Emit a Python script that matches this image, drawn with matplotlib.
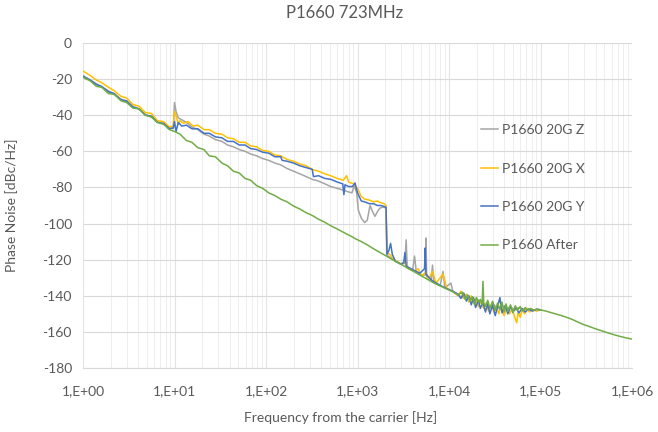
import numpy as np
import matplotlib
matplotlib.use("Agg")
import matplotlib.pyplot as plt
from matplotlib.ticker import FixedLocator, FuncFormatter, NullFormatter

plt.rcParams['font.family'] = ['Lato', 'DejaVu Sans']
plt.rcParams['axes.unicode_minus'] = False

# ---- data (frequency in Hz, phase noise in dBc/Hz) ----
f_z = [1, 1.2, 1.4, 1.6, 1.9, 2.2, 2.6, 3.0, 3.5, 4.1, 4.8, 5.6, 6.5, 7.6, 8.8, 9.7,
       10, 10.4, 11, 12, 13.5, 15.5, 18, 21, 24, 28, 33, 38, 44, 51, 59, 68, 79, 92,
       107, 125, 145, 170, 200, 235, 275, 320, 375, 440, 510, 600, 700, 800, 870, 920,
       980, 1020, 1100, 1200, 1280, 1370, 1450, 1550, 1650, 1750, 1850, 1950, 2050,
       2100, 2300, 2600, 3000, 3300, 3400, 3500, 4000, 4200, 4400, 5000, 5500, 5600,
       5700, 6400, 6600, 6800, 8000, 8600, 9000, 10500, 11000, 12500, 14000, 15500,
       17000, 18500, 20000, 22000, 24000, 26000, 28000, 31000, 34000, 38000, 42000,
       47000, 52000, 58000, 65000, 72000, 82000, 100000]
pn_z = [-18, -20.5, -22.5, -24.5, -26.5, -28.5, -31, -32.5, -35, -36.5, -39.5, -41, -43.5,
        -45, -47, -47.5, -33, -38, -41.5, -42.5, -44, -46.5, -48, -50.5, -51.5, -53.5,
        -54.5, -56.5, -57.5, -59, -60, -61.5, -62.5, -64, -65, -66.5, -67.5, -69.5, -71,
        -72.5, -74, -75.5, -76.5, -78, -79.5, -80.5, -81.5, -82.5, -83, -79, -83, -92.5,
        -97, -99.5, -98, -90, -93, -96, -93.5, -91.5, -91, -91, -91.5, -117.5, -119,
        -120.5, -122.5, -122, -109, -124.5, -126, -118, -127, -128.5, -128.5, -108,
        -129.5, -131, -123, -131.5, -134.5, -126.5, -135.5, -133, -137.5, -139.5, -141,
        -140, -142.5, -141.5, -144, -143, -145.5, -144.5, -146.5, -145, -147, -145.5,
        -147.5, -146, -148, -146.5, -148, -147, -148, -147.8]

f_x = [1, 1.2, 1.4, 1.6, 1.9, 2.2, 2.6, 3.0, 3.5, 4.1, 4.8, 5.6, 6.5, 7.6, 8.8, 9.7,
       10, 10.5, 11, 11.5, 12.5, 14, 16, 18, 21, 24, 28, 33, 38, 44, 51, 59, 68, 79, 92,
       107, 125, 145, 170, 200, 235, 275, 320, 375, 440, 510, 600, 700, 760, 800, 900,
       1000, 1100, 1200, 1350, 1500, 1650, 1800, 1950, 2050, 2100, 2300, 2500, 2700,
       3000, 3300, 3600, 4200, 4600, 5000, 5600, 6000, 6600, 7200, 8600, 9500, 11000,
       12500, 13500, 14500, 15500, 16500, 17500, 18500, 19500, 21000, 22000, 24000,
       25500, 27000, 29000, 31000, 33000, 35000, 37000, 40000, 43000, 46000, 49000,
       52000, 55000, 57000, 60000, 63000, 67000, 71000, 76000, 82000, 90000, 100000]
pn_x = [-15.5, -18, -20.5, -22, -24.5, -26.5, -29.5, -30.5, -34, -35, -38.5, -39, -43,
        -43.5, -46.5, -46, -38, -41, -45, -43, -44.5, -43.5, -46, -45.5, -48, -48, -50,
        -50.5, -52.5, -53, -55, -55, -57, -57.5, -59.5, -60, -62, -62.5, -64.5, -65.5,
        -67, -68, -70, -71, -72.5, -73.5, -75, -76, -73.5, -77, -78, -80.5, -85, -86.5,
        -87, -88, -87.5, -88.5, -89, -90, -116, -117.5, -120.5, -121, -122.5, -121, -125,
        -126.5, -125, -129, -127, -131, -126.5, -133, -128, -136, -137.5, -140, -137.5,
        -141.5, -139, -143.5, -140, -144, -141.5, -146, -143, -147, -144, -148.5, -145,
        -149, -145.5, -150, -146, -151, -146.5, -150, -147, -151.5, -155, -149, -152,
        -147.5, -150, -147, -149, -147.5, -148.5, -147.8]

f_y = [1, 1.2, 1.4, 1.6, 1.9, 2.2, 2.6, 3.0, 3.5, 4.1, 4.8, 5.6, 6.5, 7.6, 8.8, 9.7,
       10, 10.4, 11, 12, 13.5, 15.5, 18, 21, 24, 28, 33, 38, 44, 51, 59, 68, 79, 92,
       107, 125, 145, 150, 170, 200, 235, 275, 320, 330, 375, 440, 510, 600, 690, 710,
       730, 800, 880, 940, 1000, 1100, 1200, 1350, 1500, 1650, 1800, 1950, 2050, 2100,
       2200, 2300, 2400, 2600, 3000, 3200, 3300, 3400, 4000, 4800, 5400, 5500, 5600,
       6500, 7500, 9000, 11000, 12500, 13500, 14500, 15500, 16500, 17500, 18500, 19500,
       21000, 22000, 23500, 25000, 26500, 28000, 30000, 32000, 34000, 36000, 38000,
       41000, 44000, 47000, 50000, 54000, 58000, 63000, 68000, 74000, 82000, 90000,
       100000]
pn_y = [-18.5, -20.5, -23, -24, -27, -28, -31.5, -32, -35.5, -36.5, -40, -40.5, -44,
        -44.5, -47.5, -47, -43.5, -49, -44, -46, -45.5, -47.5, -47.5, -50, -50, -52,
        -52.5, -54.5, -54.5, -56.5, -56.5, -58.5, -59, -60.5, -61, -63, -63, -65, -65.5,
        -66.5, -68, -69, -70, -74, -73.5, -75, -75.5, -77, -78, -84, -78.5, -79.5, -79.5,
        -77.5, -83, -87.5, -88, -89, -89, -90, -90, -90.5, -91, -117, -115, -111, -117,
        -121, -122.5, -121.5, -116, -123.5, -125.5, -127.5, -125, -113.5, -128, -131.5,
        -133.5, -135.5, -137.5, -139, -141.5, -138.5, -143, -140, -145, -141, -146.5,
        -142.5, -147, -143.5, -149, -144.5, -150, -145, -151, -146, -141, -149.5, -145.5,
        -150, -146, -149, -146.5, -149.5, -147, -149, -147.5, -148.5, -147.5, -147.8]

f_after = [1, 1.2, 1.4, 1.6, 1.9, 2.2, 2.6, 3.0, 3.5, 4.1, 4.8, 5.6, 6.5, 7.6, 8.8, 10,
           11.5, 13.5, 15.5, 18, 21, 24, 28, 33, 38, 44, 51, 59, 68, 79, 92, 107, 125,
           145, 170, 200, 235, 275, 320, 375, 440, 510, 600, 700, 820, 950, 1100, 1300,
           1500, 1800, 2100, 2500, 3000, 3500, 4200, 5000, 6000, 7000, 8200, 9500, 11000,
           12500, 14000, 15000, 16000, 17000, 18000, 19000, 20000, 21000, 22000, 23000,
           23500, 24000, 25000, 26500, 28000, 30000, 32000, 34000, 36000, 38000, 40000,
           42000, 44000, 47000, 50000, 53000, 56000, 60000, 64000, 68000, 72000, 78000,
           85000, 92000, 100000, 115000, 130000, 150000, 170000, 190000, 220000, 250000,
           290000, 340000, 400000, 460000, 540000, 630000, 740000, 860000, 1000000]
pn_after = [-19, -21, -24, -24.5, -28, -28.5, -32, -33, -36, -36.5, -40, -41, -44, -45,
            -48, -49, -50.5, -54, -55, -58, -59, -62.5, -63, -66.5, -68, -71, -72, -75,
            -76, -79, -80.5, -83, -84.5, -86.5, -88, -90.3, -92, -94, -95.5, -97.6, -99.3,
            -101.2, -103, -104.8, -106.6, -108.4, -110, -112, -114, -116.3, -118.2,
            -120.4, -122.6, -124.6, -126.8, -129, -131.3, -133.2, -134.8, -136.3, -137.8,
            -139.5, -138, -142, -139.5, -143, -140.5, -145, -141, -143.5, -142, -145,
            -132, -144, -146, -142.5, -147, -143, -148, -144, -147.5, -143.5, -149,
            -144.5, -148.5, -145, -149.5, -145.5, -148, -146, -148.5, -146.5, -148, -147,
            -148, -147.3, -147.8, -148.5, -149.3, -150.2, -151, -151.8, -153, -154.3,
            -155.8, -157, -158.3, -159.3, -160.5, -161.5, -162.5, -163.3, -164]

series = [
    ("P1660 20G Z", f_z, pn_z, "#A5A5A5"),
    ("P1660 20G X", f_x, pn_x, "#FFC000"),
    ("P1660 20G Y", f_y, pn_y, "#4472C4"),
    ("P1660 After", f_after, pn_after, "#70AD47"),
]

txt = "#595959"
grid_c = "#D9D9D9"

fig = plt.figure(figsize=(6.58, 4.32), dpi=100)
ax = fig.add_axes([83 / 658, 1 - 368 / 432, 549 / 658, 325 / 432])

for name, f, pn, col in series:
    ax.plot(f, pn, color=col, lw=1.1, label=name)

ax.set_xscale("log")
ax.set_xlim(1, 1e6)
ax.set_ylim(-180, 0)

ax.xaxis.set_major_locator(FixedLocator([10.0 ** k for k in range(7)]))
minors = [m * 10.0 ** k for k in range(6) for m in range(2, 10)]
ax.xaxis.set_minor_locator(FixedLocator(minors))
ax.xaxis.set_minor_formatter(NullFormatter())
ax.xaxis.set_major_formatter(FuncFormatter(lambda v, p: "1,E+%02d" % int(round(np.log10(v)))))
ax.set_yticks(np.arange(-180, 1, 20))

ax.grid(True, axis="y", which="major", color=grid_c, lw=0.8)
ax.grid(True, axis="x", which="major", color="#E4E4E4", lw=0.8)
ax.grid(True, axis="x", which="minor", color="#EEEEEE", lw=0.7)
ax.set_axisbelow(True)

for s in ["top", "right", "left"]:
    ax.spines[s].set_visible(False)
ax.spines["bottom"].set_color(grid_c)
ax.tick_params(axis="both", which="both", length=0, labelsize=10, labelcolor=txt)
ax.tick_params(axis="x", pad=12)
ax.tick_params(axis="y", pad=8)

leg = ax.legend(loc="upper left", bbox_to_anchor=(0.725, 0.75), frameon=False,
                fontsize=10, borderaxespad=0, borderpad=0, handlelength=1.2,
                handletextpad=0.3, labelspacing=1.9)
for t in leg.get_texts():
    t.set_color(txt)

fig.text(345 / 658, 1 - 13 / 432, "P1660 723MHz", ha="center", va="center",
         fontsize=12, color=txt)
fig.text(341 / 658, 1 - 418 / 432, "Frequency from the carrier [Hz]", ha="center",
         va="center", fontsize=10, color=txt)
fig.text(12 / 658, 1 - 205 / 432, "Phase Noise [dBc/Hz]", ha="center", va="center",
         rotation=90, fontsize=10, color=txt)

fig.savefig("out.png", dpi=100)
